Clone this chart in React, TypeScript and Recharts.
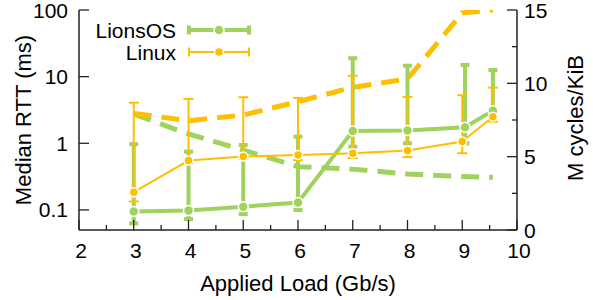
import React from 'react';
import { LineChart, Line, XAxis, YAxis, ErrorBar, Legend } from 'recharts';

const GREEN = '#a0d25e';
const YELLOW = '#ffbf00';
const AXIS = '#222';
const FONT = '"Liberation Sans", Arial, Helvetica, sans-serif';

// LionsOS
const lionsLoad = [3, 4, 5, 6, 7, 8, 9.05, 9.56];
const lionsRtt = [0.095, 0.098, 0.112, 0.129, 1.53, 1.55, 1.74, 3.09];
const lionsRttLow = [0.063, 0.073, 0.0865, 0.1, 0.89, 1.0, 1.0, 2.4];
const lionsRttHigh = [0.97, 0.75, 0.94, 1.26, 18.9, 14.6, 15, 12.6];
const lionsCycles = [7.9, 6.55, 5.45, 4.32, 4.15, 3.82, 3.64, 3.59];

// Linux
const linuxLoad = [3, 4, 5, 6, 7, 8, 9, 9.56];
const linuxRtt = [0.185, 0.55, 0.632, 0.67, 0.71, 0.78, 1.06, 2.51];
const linuxRttLow = [0.134, 0.5, 0.58, 0.56, 0.6, 0.62, 0.71, 2.11];
const linuxRttHigh = [4.07, 4.63, 4.91, 4.8, 10.3, 4.96, 5.26, 6.84];
const linuxCycles = [7.95, 7.45, 7.84, 8.75, 9.73, 10.3, 14.8, 15];

const xTicks = [2, 2.5, 3, 3.5, 4, 4.5, 5, 5.5, 6, 6.5, 7, 7.5, 8, 8.5, 9, 9.5, 10];
const leftTicks = [0.1, 1, 10, 100];
const rightTicks = [0, 2.5, 5, 7.5, 10, 12.5, 15];

const seriesNames = ['LionsOS', 'Linux'];
const titles = { x: 'Applied Load (Gb/s)', left: 'Median RTT (ms)', right: 'M cycles/KiB' };

const rttData = (load: number[], v: number[], lo: number[], hi: number[]) =>
  load.map((x, i) => ({ x, y: v[i], err: [v[i] - lo[i], hi[i] - v[i]] }));
const cycData = (load: number[], v: number[]) => load.map((x, i) => ({ x, y: v[i] }));

const lionsRttData = rttData(lionsLoad, lionsRtt, lionsRttLow, lionsRttHigh);
const linuxRttData = rttData(linuxLoad, linuxRtt, linuxRttLow, linuxRttHigh);
const lionsCycData = cycData(lionsLoad, lionsCycles);
const linuxCycData = cycData(linuxLoad, linuxCycles);

const XTick = (props: any) => {
  const { x, y, payload } = props;
  const v = payload.value;
  const major = Number.isInteger(v);
  return (
    <g>
      <line x1={x} y1={y} x2={x} y2={y - (major ? 10 : 5)} stroke={AXIS} strokeWidth={1.3} />
      {major && (
        <text x={x + 2} y={y + 28} textAnchor="middle" fontSize={21} fontFamily={FONT} fill="#000">
          {v}
        </text>
      )}
    </g>
  );
};

const LeftTick = (props: any) => {
  const { x, y, payload } = props;
  return (
    <g>
      <line x1={x} y1={y} x2={x + 10} y2={y} stroke={AXIS} strokeWidth={1.3} />
      <text x={x - 11} y={y + 7.5} textAnchor="end" fontSize={21} fontFamily={FONT} fill="#000">
        {String(payload.value)}
      </text>
    </g>
  );
};

const RightTick = (props: any) => {
  const { x, y, payload } = props;
  const v = payload.value;
  const major = Number.isInteger(v);
  return (
    <g>
      <line x1={x} y1={y} x2={x - (major ? 10 : 5)} y2={y} stroke={AXIS} strokeWidth={1.3} />
      {major && (
        <text x={x + 7} y={y + 7.5} textAnchor="start" fontSize={21} fontFamily={FONT} fill="#000">
          {v}
        </text>
      )}
    </g>
  );
};

const legendStyle = [
  { color: GREEN, w: 4, r: 5 },
  { color: YELLOW, w: 2, r: 4.5 },
];

const Overlay = () => (
  <svg width={593} height={300} style={{ display: 'block' }}>
    {seriesNames.map((name, i) => {
      const cy = 30 + i * 22;
      const s = legendStyle[i];
      return (
        <g key={name}>
          <text x={176} y={cy + 7.5} textAnchor="end" fontSize={21} fontFamily={FONT} fill="#000">
            {name}
          </text>
          <line x1={189} y1={cy} x2={249} y2={cy} stroke={s.color} strokeWidth={s.w} />
          <line x1={189} y1={cy - 4.5} x2={189} y2={cy + 4.5} stroke={s.color} strokeWidth={s.w} />
          <line x1={249} y1={cy - 4.5} x2={249} y2={cy + 4.5} stroke={s.color} strokeWidth={s.w} />
          <circle cx={219} cy={cy} r={s.r} fill={s.color} stroke="#fff" strokeWidth={1.5} />
        </g>
      );
    })}
    <text x={298} y={291} textAnchor="middle" fontSize={22} fontFamily={FONT} fill="#000">
      {titles.x}
    </text>
    <text x={31} y={120} textAnchor="middle" fontSize={22} fontFamily={FONT} fill="#000" transform="rotate(-90 31 120)">
      {titles.left}
    </text>
    <text x={583} y={118} textAnchor="middle" fontSize={22} fontFamily={FONT} fill="#000" transform="rotate(-90 583 118)">
      {titles.right}
    </text>
  </svg>
);

export default function App() {
  return (
    <div style={{ position: 'absolute', left: 0, top: 0, background: '#fff' }}>
      <LineChart width={593} height={300} margin={{ top: 10, right: 0, bottom: 0, left: 0 }}>
        <XAxis
          xAxisId="b"
          dataKey="x"
          type="number"
          domain={[2, 10]}
          ticks={xTicks}
          interval={0}
          height={70}
          tickSize={0}
          tickMargin={0}
          tick={<XTick />}
          tickLine={false}
          axisLine={{ stroke: AXIS, strokeWidth: 1.5 }}
          allowDataOverflow
        />
        <XAxis
          xAxisId="t"
          orientation="top"
          dataKey="x"
          type="number"
          domain={[2, 10]}
          height={0}
          tick={false}
          tickLine={false}
          axisLine={{ stroke: AXIS, strokeWidth: 1.5 }}
        />
        <YAxis
          yAxisId="rtt"
          scale="log"
          domain={[0.05, 100]}
          ticks={leftTicks}
          interval={0}
          width={79}
          tickSize={0}
          tickMargin={0}
          tick={<LeftTick />}
          tickLine={false}
          axisLine={{ stroke: AXIS, strokeWidth: 1.5 }}
          allowDataOverflow
        />
        <YAxis
          yAxisId="cyc"
          orientation="right"
          domain={[0, 15]}
          ticks={rightTicks}
          interval={0}
          width={76}
          tickSize={0}
          tickMargin={0}
          tick={<RightTick />}
          tickLine={false}
          axisLine={{ stroke: AXIS, strokeWidth: 1.5 }}
          allowDataOverflow
        />
        <Legend
          layout="vertical"
          align="center"
          verticalAlign="middle"
          content={() => <Overlay />}
          wrapperStyle={{ position: 'absolute', left: 0, top: 0, width: 593, height: 300, pointerEvents: 'none' }}
        />
        <Line
          xAxisId="b"
          yAxisId="cyc"
          data={lionsCycData}
          dataKey="y"
          stroke={GREEN}
          strokeWidth={5}
          strokeDasharray="18 10"
          dot={false}
          isAnimationActive={false}
          name="LionsOS cycles"
          legendType="none"
        />
        <Line
          xAxisId="b"
          yAxisId="cyc"
          data={linuxCycData}
          dataKey="y"
          stroke={YELLOW}
          strokeWidth={5}
          strokeDasharray="18 10"
          dot={false}
          isAnimationActive={false}
          name="Linux cycles"
          legendType="none"
        />
        <Line
          xAxisId="b"
          yAxisId="rtt"
          data={lionsRttData}
          dataKey="y"
          stroke={GREEN}
          strokeWidth={4}
          dot={{ r: 5, fill: GREEN, stroke: '#fff', strokeWidth: 1.5 }}
          isAnimationActive={false}
          name="LionsOS"
        >
          <ErrorBar dataKey="err" direction="y" width={4.5} stroke={GREEN} strokeWidth={4} isAnimationActive={false} />
        </Line>
        <Line
          xAxisId="b"
          yAxisId="rtt"
          data={linuxRttData}
          dataKey="y"
          stroke={YELLOW}
          strokeWidth={2}
          dot={{ r: 4.5, fill: YELLOW, stroke: '#fff', strokeWidth: 1.5 }}
          isAnimationActive={false}
          name="Linux"
        >
          <ErrorBar dataKey="err" direction="y" width={5} stroke={YELLOW} strokeWidth={2} isAnimationActive={false} />
        </Line>
      </LineChart>
    </div>
  );
}
